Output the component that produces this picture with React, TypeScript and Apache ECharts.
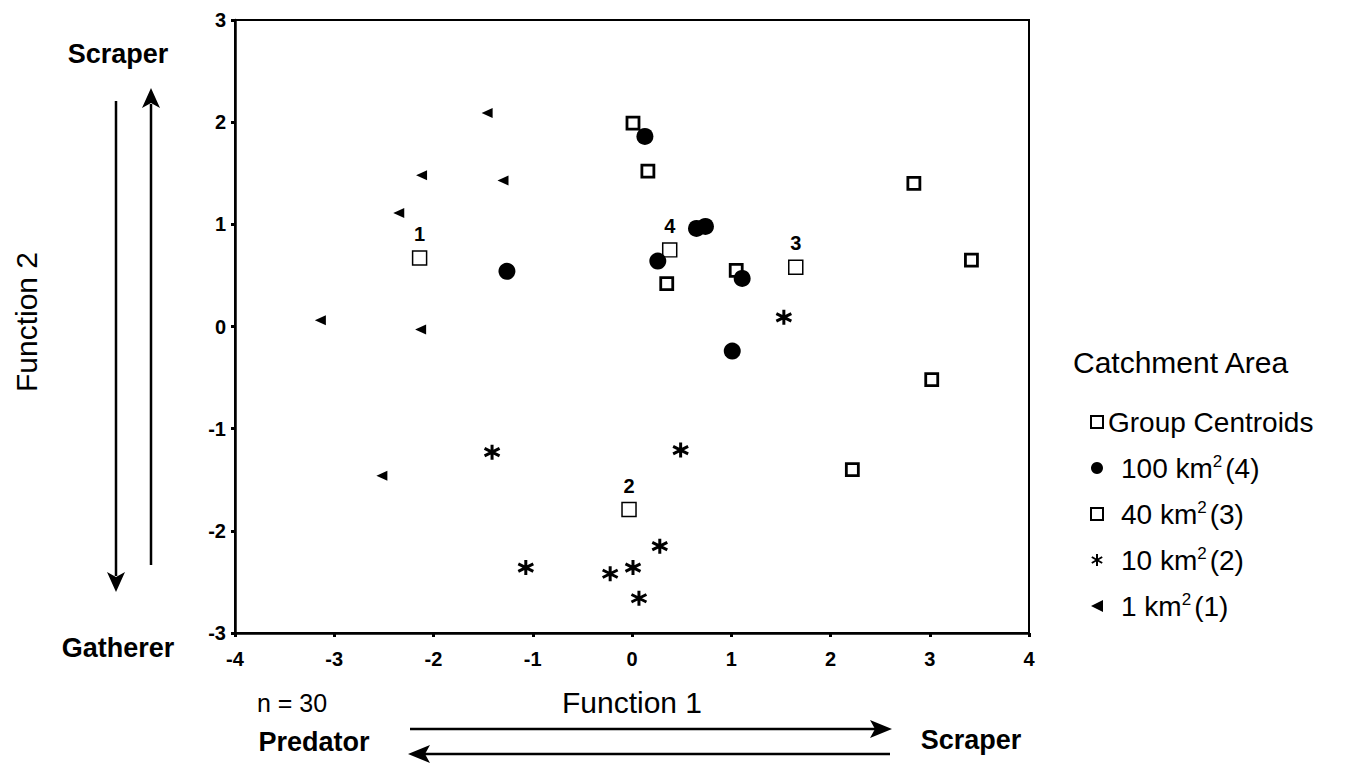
import React, { useEffect, useRef } from 'react';
import * as echarts from 'echarts';

// Axis ranges
const xRange = [-4, 4];
const yRange = [-3, 3];

// Group centroids: [Function 1, Function 2, group label]
const centroids: [number, number, string][] = [
  [-2.14, 0.67, '1'],
  [-0.03, -1.79, '2'],
  [1.65, 0.58, '3'],
  [0.38, 0.75, '4'],
];

// 100 km2 (4)
const area100: [number, number][] = [
  [0.13, 1.86],
  [0.65, 0.96],
  [0.74, 0.98],
  [0.26, 0.64],
  [1.11, 0.47],
  [1.01, -0.24],
  [-1.26, 0.54],
];

// 40 km2 (3)
const area40: [number, number][] = [
  [0.01, 1.99],
  [0.16, 1.52],
  [2.84, 1.4],
  [0.35, 0.42],
  [1.05, 0.55],
  [3.42, 0.65],
  [3.02, -0.52],
  [2.22, -1.4],
];

// 10 km2 (2)
const area10: [number, number][] = [
  [1.53, 0.09],
  [-1.41, -1.23],
  [0.49, -1.21],
  [0.28, -2.15],
  [-1.07, -2.36],
  [-0.22, -2.42],
  [0.01, -2.36],
  [0.07, -2.66],
];

// 1 km2 (1)
const area1: [number, number][] = [
  [-1.46, 2.09],
  [-2.12, 1.48],
  [-1.3, 1.43],
  [-2.35, 1.11],
  [-3.14, 0.06],
  [-2.13, -0.03],
  [-2.52, -1.46],
];

const legendNames = ['Group Centroids', '100 km² (4)', '40 km² (3)', '10 km² (2)', '1 km² (1)'];

const FONT = '"Liberation Sans", Arial, sans-serif';

export default function App() {
  const ref = useRef<HTMLDivElement>(null);

  useEffect(() => {
    document.body.style.margin = '0';
    if (!ref.current) return;
    const chart = echarts.init(ref.current, undefined, { renderer: 'svg' });

    const triangleLeft = 'path://M0,5L10,0L10,10Z';
    const asterisk = 'path://M5,0L5,10M0.67,2.5L9.33,7.5M0.67,7.5L9.33,2.5';

    const option: any = {
      animation: false,
      backgroundColor: '#ffffff',
      textStyle: { fontFamily: FONT, color: '#000' },
      grid: {
        left: 235,
        top: 20,
        width: 794,
        height: 613,
        show: true,
        borderColor: '#000',
        borderWidth: 2,
        backgroundColor: 'transparent',
      },
      xAxis: {
        type: 'value',
        min: xRange[0],
        max: xRange[1],
        interval: 1,
        splitLine: { show: false },
        axisLine: { show: true, onZero: false, lineStyle: { color: '#000', width: 2.5 } },
        axisTick: { show: true, length: 4, lineStyle: { color: '#000', width: 3 } },
        axisLabel: { color: '#000', fontSize: 20, fontWeight: 'bold', margin: 16, fontFamily: FONT },
        name: 'Function 1',
        nameLocation: 'middle',
        nameGap: 54,
        nameTextStyle: { color: '#000', fontSize: 30, fontFamily: FONT },
      },
      yAxis: {
        type: 'value',
        min: yRange[0],
        max: yRange[1],
        interval: 1,
        splitLine: { show: false },
        axisLine: { show: true, onZero: false, lineStyle: { color: '#000', width: 2.5 } },
        axisTick: { show: true, length: 4, lineStyle: { color: '#000', width: 3 } },
        axisLabel: { color: '#000', fontSize: 20, fontWeight: 'bold', margin: 9, fontFamily: FONT },
      },
      legend: {
        data: legendNames,
        orient: 'vertical',
        left: 1085,
        top: 403,
        itemWidth: 12,
        itemHeight: 12,
        itemGap: 17,
        selectedMode: false,
        formatter: (name: string) => {
          const m = name.match(/^(\d+) km² (\(\d\))$/);
          if (!m) return `{g|${name}}`;
          return `{f|${m[1]} km}{s|2}{t|${m[2]}}`;
        },
        textStyle: {
          color: '#000',
          fontFamily: FONT,
          rich: {
            g: { fontSize: 28, lineHeight: 30, color: '#000', fontFamily: FONT, padding: [0, 0, 0, 0] },
            f: { fontSize: 28, lineHeight: 30, color: '#000', fontFamily: FONT, padding: [0, 0, 0, 13] },
            t: { fontSize: 28, lineHeight: 30, color: '#000', fontFamily: FONT, padding: [0, 0, 0, 3] },
            s: { fontSize: 17, lineHeight: 17, verticalAlign: 'top', color: '#000', fontFamily: FONT },
          },
        },
      },
      series: [
        {
          name: 'Group Centroids',
          type: 'scatter',
          symbol: 'rect',
          symbolSize: 14,
          data: centroids,
          encode: { x: 0, y: 1 },
          itemStyle: { color: '#fff', borderColor: '#000', borderWidth: 1.5, opacity: 1 },
          label: {
            show: true,
            position: 'top',
            distance: 6,
            formatter: (p: any) => p.value[2],
            color: '#000',
            fontSize: 20,
            fontWeight: 'bold',
            fontFamily: FONT,
          },
          z: 2,
        },
        {
          name: '40 km² (3)',
          type: 'scatter',
          symbol: 'rect',
          symbolSize: 12,
          data: area40,
          itemStyle: { color: '#fff', borderColor: '#000', borderWidth: 2.8, opacity: 1 },
          z: 3,
        },
        {
          name: '10 km² (2)',
          type: 'scatter',
          symbol: asterisk,
          symbolSize: 15,
          data: area10,
          itemStyle: { color: 'transparent', borderColor: '#000', borderWidth: 3, opacity: 1 },
          z: 3,
        },
        {
          name: '1 km² (1)',
          type: 'scatter',
          symbol: triangleLeft,
          symbolSize: [11, 10],
          data: area1,
          itemStyle: { color: '#000', opacity: 1 },
          z: 3,
        },
        {
          name: '100 km² (4)',
          type: 'scatter',
          symbol: 'circle',
          symbolSize: 17,
          data: area100,
          itemStyle: { color: '#000', opacity: 1 },
          z: 4,
        },
      ],
      graphic: [
        {
          type: 'text',
          left: 1073,
          top: 347,
          style: { text: 'Catchment Area', fontSize: 30, fontFamily: FONT, fill: '#000' },
        },
        {
          type: 'text',
          x: 26,
          y: 322,
          rotation: Math.PI / 2,
          style: {
            text: 'Function 2',
            fontSize: 30,
            fontFamily: FONT,
            fill: '#000',
            align: 'center',
            verticalAlign: 'middle',
          },
        },
        {
          type: 'text',
          x: 118,
          y: 54,
          style: { text: 'Scraper', fontSize: 27, fontWeight: 'bold', fontFamily: FONT, fill: '#000', align: 'center', verticalAlign: 'middle' },
        },
        {
          type: 'text',
          x: 118,
          y: 648,
          style: { text: 'Gatherer', fontSize: 27, fontWeight: 'bold', fontFamily: FONT, fill: '#000', align: 'center', verticalAlign: 'middle' },
        },
        {
          type: 'text',
          x: 314,
          y: 742,
          style: { text: 'Predator', fontSize: 27, fontWeight: 'bold', fontFamily: FONT, fill: '#000', align: 'center', verticalAlign: 'middle' },
        },
        {
          type: 'text',
          x: 971,
          y: 740,
          style: { text: 'Scraper', fontSize: 27, fontWeight: 'bold', fontFamily: FONT, fill: '#000', align: 'center', verticalAlign: 'middle' },
        },
        {
          type: 'text',
          x: 292,
          y: 703,
          style: { text: 'n = 30', fontSize: 25, fontFamily: FONT, fill: '#000', align: 'center', verticalAlign: 'middle' },
        },
        // Down arrow (left)
        { type: 'line', shape: { x1: 116, y1: 101, x2: 116, y2: 576 }, style: { stroke: '#000', lineWidth: 2.5 } },
        { type: 'polygon', shape: { points: [[116, 592], [107, 572], [116, 577], [125, 572]] }, style: { fill: '#000' } },
        // Up arrow (right)
        { type: 'line', shape: { x1: 151, y1: 565, x2: 151, y2: 104 }, style: { stroke: '#000', lineWidth: 2.5 } },
        { type: 'polygon', shape: { points: [[151, 88], [142, 108], [151, 103], [160, 108]] }, style: { fill: '#000' } },
        // Right arrow (bottom, upper)
        { type: 'line', shape: { x1: 410, y1: 729, x2: 876, y2: 729 }, style: { stroke: '#000', lineWidth: 2.5 } },
        { type: 'polygon', shape: { points: [[892, 729], [870, 720], [875, 729], [870, 738]] }, style: { fill: '#000' } },
        // Left arrow (bottom, lower)
        { type: 'line', shape: { x1: 424, y1: 754, x2: 890, y2: 754 }, style: { stroke: '#000', lineWidth: 2.5 } },
        { type: 'polygon', shape: { points: [[408, 754], [430, 745], [425, 754], [430, 763]] }, style: { fill: '#000' } },
      ],
    };

    chart.setOption(option);
    return () => {
      chart.dispose();
    };
  }, []);

  return <div ref={ref} style={{ width: 1356, height: 764 }} />;
}
